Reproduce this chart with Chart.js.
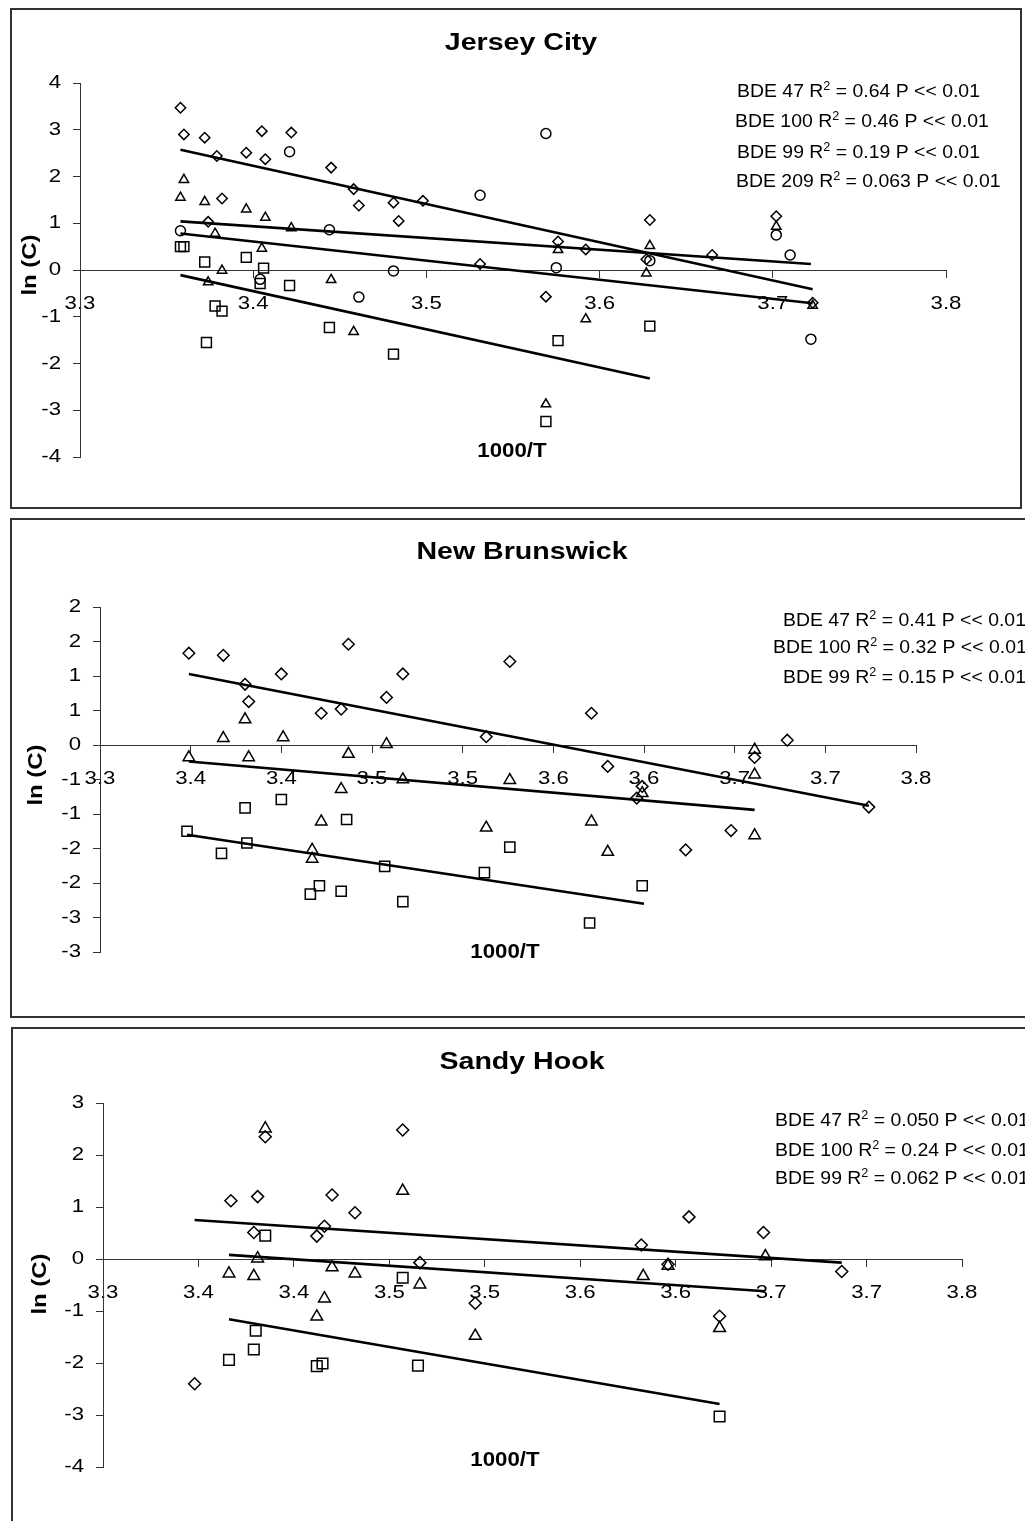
<!DOCTYPE html>
<html>
<head>
<meta charset="utf-8">
<script src="https://cdn.jsdelivr.net/npm/chart.js@4.4.1/dist/chart.umd.min.js"></script>
<style>
html,body{margin:0;padding:0;background:#fff;overflow:hidden;width:1025px;height:1521px;}
.panel{position:absolute;border:2px solid #333;box-sizing:border-box;}
canvas{position:absolute;left:0;}
</style>
</head>
<body>
<div class="panel" style="left:10px;top:8px;width:1012px;height:501px"></div>
<div class="panel" style="left:10px;top:518px;width:1100px;height:500px"></div>
<div class="panel" style="left:11px;top:1027px;width:1100px;height:600px"></div>
<script>
// ---------------- DATA ----------------
const seriesNames = ['BDE 47', 'BDE 100', 'BDE 99', 'BDE 209'];

// Jersey City
const jcTitle = 'Jersey City';
const jcXTicks = ['3.3', '3.4', '3.5', '3.6', '3.7', '3.8'];
const jcYTicks = ['-4', '-3', '-2', '-1', '0', '1', '2', '3', '4'];
const jcR2 = ['0.64', '0.46', '0.19', '0.063'];
const jc47X = [3.358,3.360,3.372,3.405,3.422,3.379,3.396,3.407,3.445,3.458,3.461,3.481,3.484,3.498,3.382,3.374,3.531,3.569,3.576,3.592,3.629,3.627,3.665,3.702,3.723];
const jc47Y = [3.47,2.90,2.83,2.97,2.94,2.44,2.51,2.37,2.19,1.73,1.38,1.44,1.05,1.48,1.53,1.03,0.13,-0.57,0.61,0.44,1.07,0.23,0.32,1.15,-0.70];
const jc100X = [3.360,3.358,3.372,3.396,3.407,3.422,3.378,3.405,3.382,3.374,3.445,3.458,3.576,3.629,3.627,3.592,3.569,3.702,3.723];
const jc100Y = [1.93,1.55,1.46,1.30,1.12,0.90,0.78,0.46,-0.01,-0.26,-0.21,-1.32,0.43,0.52,-0.07,-1.05,-2.87,0.93,-0.76];
const jc209X = [3.421,3.358,3.444,3.531,3.569,3.404,3.461,3.481,3.575,3.629,3.702,3.710,3.722];
const jc209Y = [2.53,0.84,0.86,1.60,2.92,-0.20,-0.58,-0.02,0.05,0.20,0.75,0.32,-1.48];
const jc99X = [3.358,3.360,3.372,3.396,3.406,3.404,3.421,3.378,3.382,3.373,3.444,3.481,3.629,3.576,3.569];
const jc99Y = [0.50,0.50,0.17,0.27,0.04,-0.29,-0.33,-0.77,-0.88,-1.55,-1.23,-1.80,-1.20,-1.51,-3.24];
const jcFit47X = [3.358, 3.723], jcFit47Y = [2.57, -0.41];
const jcFit100X = [3.358, 3.723], jcFit100Y = [0.78, -0.71];
const jcFit99X = [3.358, 3.629], jcFit99Y = [-0.11, -2.32];
const jcFit209X = [3.358, 3.722], jcFit209Y = [1.04, 0.13];

// New Brunswick
const nbTitle = 'New Brunswick';
const nbXTicks = ['3.3', '3.4', '3.4', '3.5', '3.5', '3.6', '3.6', '3.7', '3.7', '3.8'];
const nbYTicks = ['-3', '-3', '-2', '-2', '-1', '-1', '0', '1', '1', '2', '2'];
const nbR2 = ['0.41', '0.32', '0.15'];
const nb47X = [3.349,3.368,3.437,3.526,3.400,3.467,3.380,3.382,3.458,3.422,3.433,3.513,3.571,3.679,3.661,3.580,3.599,3.596,3.724,3.648,3.623];
const nb47Y = [1.33,1.30,1.46,1.21,1.03,1.03,0.88,0.63,0.69,0.46,0.52,0.12,0.46,0.07,-0.18,-0.31,-0.60,-0.77,-0.90,-1.24,-1.52];
const nb100X = [3.380,3.368,3.401,3.458,3.349,3.382,3.437,3.467,3.526,3.433,3.422,3.513,3.417,3.417,3.661,3.599,3.661,3.571,3.661,3.580];
const nb100Y = [0.37,0.10,0.11,0.01,-0.18,-0.18,-0.13,-0.50,-0.51,-0.64,-1.11,-1.20,-1.52,-1.65,-0.07,-0.70,-0.43,-1.11,-1.31,-1.55];
const nb99X = [3.400,3.380,3.436,3.348,3.381,3.367,3.526,3.457,3.512,3.416,3.421,3.433,3.467,3.599,3.570];
const nb99Y = [-0.79,-0.91,-1.08,-1.25,-1.42,-1.57,-1.48,-1.76,-1.85,-2.16,-2.04,-2.12,-2.27,-2.04,-2.58];
const nbFit47X = [3.349, 3.724], nbFit47Y = [1.03, -0.88];
const nbFit100X = [3.349, 3.661], nbFit100Y = [-0.24, -0.94];
const nbFit99X = [3.348, 3.600], nbFit99Y = [-1.30, -2.30];

// Sandy Hook
const shTitle = 'Sandy Hook';
const shXTicks = ['3.3', '3.4', '3.4', '3.5', '3.5', '3.6', '3.6', '3.7', '3.7', '3.8'];
const shYTicks = ['-4', '-3', '-2', '-1', '0', '1', '2', '3'];
const shR2 = ['0.050', '0.24', '0.062'];
const sh47X = [3.385,3.457,3.367,3.381,3.420,3.432,3.416,3.412,3.379,3.607,3.646,3.582,3.466,3.495,3.348,3.596,3.687,3.623];
const sh47Y = [2.35,2.48,1.12,1.20,1.23,0.89,0.63,0.44,0.51,0.81,0.51,0.27,-0.07,-0.85,-2.40,-0.10,-0.24,-1.10];
const sh100X = [3.385,3.457,3.381,3.366,3.379,3.420,3.432,3.466,3.416,3.412,3.495,3.583,3.596,3.647,3.623];
const sh100Y = [2.51,1.31,0.01,-0.28,-0.33,-0.16,-0.28,-0.49,-0.76,-1.11,-1.48,-0.33,-0.13,0.05,-1.33];
const sh99X = [3.385,3.457,3.380,3.379,3.366,3.412,3.415,3.465,3.623];
const sh99Y = [0.45,-0.36,-1.38,-1.74,-1.94,-2.06,-2.01,-2.05,-3.03];
const shFit47X = [3.348, 3.687], shFit47Y = [0.75, -0.07];
const shFit100X = [3.366, 3.647], shFit100Y = [0.08, -0.62];
const shFit99X = [3.366, 3.623], shFit99Y = [-1.16, -2.79];

// ---------------- RENDERING ----------------
const FONT = "'Liberation Sans', Arial, Helvetica, sans-serif";
const TICK_STRETCH = 1.2;

function pts(xs, ys) { return xs.map((v, i) => ({x: v, y: ys[i]})); }

function sText(ctx, txt, x, y, sx) {
  ctx.save(); ctx.translate(x, y); ctx.scale(sx, 1); ctx.fillText(txt, 0, 0); ctx.restore();
  return ctx.measureText(txt).width * sx;
}

function makeTextPlugin(p) {
  return {
    id: 'panelText',
    beforeDraw(chart) {
      // widen the axis tick labels horizontally (the reference font is wide)
      const ctx = chart.ctx;
      const orig = CanvasRenderingContext2D.prototype.fillText;
      ctx.fillText = function (t, x, y, m) {
        this.save(); this.translate(x, y); this.scale(TICK_STRETCH, 1);
        orig.call(this, t, 0, 0); this.restore();
      };
    },
    afterDraw(chart) {
      const ctx = chart.ctx, off = p.top;
      delete ctx.fillText;
      ctx.save();
      ctx.fillStyle = '#000';
      ctx.textAlign = 'center'; ctx.textBaseline = 'middle';
      ctx.font = 'bold 24px ' + FONT;
      sText(ctx, p.title, p.titleX, p.titleY - off, 1.19);
      ctx.font = 'bold 21px ' + FONT;
      sText(ctx, '1000/T', p.xtX, p.xtY - off, 1.06);
      ctx.save(); ctx.translate(p.ytX, p.ytY - off); ctx.rotate(-Math.PI / 2);
      ctx.scale(1.14, 1); ctx.fillText('ln (C)', 0, 0); ctx.restore();
      ctx.textAlign = 'left'; ctx.textBaseline = 'alphabetic';
      p.notes.forEach((n, i) => {
        let x = n.x; const y = n.y - off;
        ctx.font = '18.5px ' + FONT;
        x += sText(ctx, seriesNames[i] + ' R', x, y, 1.05);
        ctx.font = '12px ' + FONT;
        x += sText(ctx, '2', x, y - 7, 1.05);
        ctx.font = '18.5px ' + FONT;
        sText(ctx, ' = ' + n.r2 + ' P << 0.01', x, y, 1.05);
      });
      ctx.restore();
    }
  };
}

function makePanel(p) {
  const cv = document.createElement('canvas');
  cv.width = p.w; cv.height = p.h;
  cv.style.top = p.top + 'px';
  cv.style.width = p.w + 'px'; cv.style.height = p.h + 'px';
  document.body.appendChild(cv);
  const datasets = [];
  p.series.forEach(s => datasets.push({
    type: 'scatter', data: pts(s.x, s.y), pointStyle: s.style, pointRadius: s.r,
    pointHoverRadius: s.r, pointBorderColor: '#000', pointBackgroundColor: 'rgba(0,0,0,0)',
    pointBorderWidth: 1.5, showLine: false
  }));
  p.fits.forEach(f => datasets.push({
    type: 'line', data: pts(f.x, f.y), borderColor: '#000', borderWidth: 2.6,
    pointRadius: 0, fill: false, tension: 0
  }));
  const tickFont = {family: FONT, size: 18.5};
  new Chart(cv, {
    type: 'scatter',
    data: {datasets},
    options: {
      responsive: false, animation: false, events: [],
      layout: {padding: {left: 0, top: p.pad.top, right: p.pad.right, bottom: p.pad.bottom}},
      plugins: {legend: {display: false}, tooltip: {enabled: false}, title: {display: false}},
      scales: {
        x: {
          type: 'linear', min: p.xMin, max: p.xMax, position: {y: 0},
          afterFit: s => { s.height = 0; },
          grid: {drawOnChartArea: false, drawTicks: true, tickLength: 7, color: '#333', lineWidth: 1},
          border: {display: true, color: '#333', width: 1},
          ticks: {stepSize: p.xStep, autoSkip: false, maxRotation: 0, minRotation: 0, padding: 16,
                  color: '#000', font: tickFont, callback: (v, i) => p.xTicks[i]}
        },
        y: {
          type: 'linear', min: p.yMin, max: p.yMax, position: 'left',
          afterFit: s => { s.width = p.yw; },
          grid: {drawOnChartArea: false, drawTicks: true, tickLength: 7, color: '#333', lineWidth: 1},
          border: {display: true, color: '#333', width: 1},
          ticks: {stepSize: p.yStep, autoSkip: false, padding: 12, color: '#000', font: tickFont,
                  callback: (v, i) => p.yTicks[i]}
        }
      }
    },
    plugins: [makeTextPlugin(p)]
  });
}

makePanel({
  top: 0, w: 1025, h: 510, yw: 80, pad: {top: 83, right: 79, bottom: 53},
  xMin: 3.3, xMax: 3.8, xStep: 0.1, yMin: -4, yMax: 4, yStep: 1,
  xTicks: jcXTicks, yTicks: jcYTicks,
  title: jcTitle, titleX: 521, titleY: 43, xtX: 512, xtY: 451, ytX: 30, ytY: 265,
  notes: [{x: 737, y: 97, r2: jcR2[0]}, {x: 735, y: 127, r2: jcR2[1]}, {x: 737, y: 158, r2: jcR2[2]}, {x: 736, y: 187, r2: jcR2[3]}],
  series: [
    {x: jc47X, y: jc47Y, style: 'rectRot', r: 5.2},
    {x: jc100X, y: jc100Y, style: 'triangle', r: 5.4},
    {x: jc99X, y: jc99Y, style: 'rect', r: 7},
    {x: jc209X, y: jc209Y, style: 'circle', r: 5}
  ],
  fits: [{x: jcFit47X, y: jcFit47Y}, {x: jcFit100X, y: jcFit100Y}, {x: jcFit99X, y: jcFit99Y}, {x: jcFit209X, y: jcFit209Y}]
});

makePanel({
  top: 510, w: 1025, h: 510, yw: 100, pad: {top: 97, right: 109, bottom: 68},
  xMin: 3.3, xMax: 3.75, xStep: 0.05, yMin: -3, yMax: 2, yStep: 0.5,
  xTicks: nbXTicks, yTicks: nbYTicks,
  title: nbTitle, titleX: 522, titleY: 552, xtX: 505, xtY: 952, ytX: 36, ytY: 775,
  notes: [{x: 783, y: 626, r2: nbR2[0]}, {x: 773, y: 653, r2: nbR2[1]}, {x: 783, y: 683, r2: nbR2[2]}],
  series: [
    {x: nb47X, y: nb47Y, style: 'rectRot', r: 5.8},
    {x: nb100X, y: nb100Y, style: 'triangle', r: 6.6},
    {x: nb99X, y: nb99Y, style: 'rect', r: 7.2}
  ],
  fits: [{x: nbFit47X, y: nbFit47Y}, {x: nbFit100X, y: nbFit100Y}, {x: nbFit99X, y: nbFit99Y}]
});

makePanel({
  top: 1020, w: 1025, h: 501, yw: 103, pad: {top: 83, right: 63, bottom: 54},
  xMin: 3.3, xMax: 3.75, xStep: 0.05, yMin: -4, yMax: 3, yStep: 1,
  xTicks: shXTicks, yTicks: shYTicks,
  title: shTitle, titleX: 522, titleY: 1062, xtX: 505, xtY: 1460, ytX: 40, ytY: 1284,
  notes: [{x: 775, y: 1126, r2: shR2[0]}, {x: 775, y: 1156, r2: shR2[1]}, {x: 775, y: 1184, r2: shR2[2]}],
  series: [
    {x: sh47X, y: sh47Y, style: 'rectRot', r: 6},
    {x: sh100X, y: sh100Y, style: 'triangle', r: 6.8},
    {x: sh99X, y: sh99Y, style: 'rect', r: 7.5}
  ],
  fits: [{x: shFit47X, y: shFit47Y}, {x: shFit100X, y: shFit100Y}, {x: shFit99X, y: shFit99Y}]
});
</script>
</body>
</html>
